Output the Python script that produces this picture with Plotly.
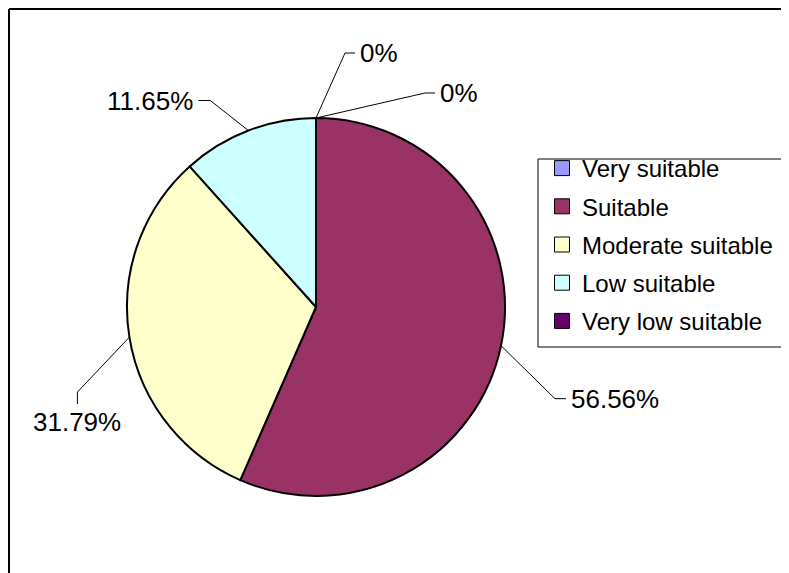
import math
import plotly.graph_objects as go

categories = ["Very suitable", "Suitable", "Moderate suitable", "Low suitable", "Very low suitable"]
values = [0.0, 56.56, 31.79, 11.65, 0.0]
label_texts = ["0%", "56.56%", "31.79%", "11.65%", "0%"]
colors = ["#9999FF", "#993366", "#FFFFCC", "#CCFFFF", "#660066"]

W, H = 781, 565
OX, OY = 8, 8  # page offset of the figure in the screenshot
CX, CY, R = 316, 307, 189
FONT = "Liberation Sans, Arial, sans-serif"

def px(x):
    return (x - OX) / W

def py(y):
    return 1 - (y - OY) / H

# leader line geometry per label: elbow offset from slice edge, tail offset, text anchor
leader = [
    dict(elbow=(29, -65), tail=(10, 0), anchor="left"),
    dict(elbow=(54, 53), tail=(11, 0), anchor="left"),
    dict(elbow=(-52, 55), tail=(0, 12), anchor="below"),
    dict(elbow=(-38, -30), tail=(-12, 0), anchor="right"),
    dict(elbow=(109, -25), tail=(10, 0), anchor="left"),
]

fig = go.Figure()
fig.add_trace(go.Pie(
    labels=categories,
    values=values,
    sort=False,
    direction="clockwise",
    rotation=0,
    textinfo="none",
    hoverinfo="label+percent",
    marker=dict(colors=colors, line=dict(color="black", width=2)),
    domain=dict(x=[px(CX - R), px(CX + R)], y=[py(CY + R), py(CY - R)]),
    showlegend=False,
))

# legend entries (one group each so the spacing can match)
for name, col in zip(categories, colors):
    fig.add_trace(go.Scatter(
        x=[None], y=[None], mode="markers", name=name,
        legendgroup=name, showlegend=True,
        marker=dict(symbol="square", size=15, color=col,
                    line=dict(color="black", width=1)),
    ))

shapes = []
annotations = []
total = sum(values)
cum = 0.0
for i, v in enumerate(values):
    theta = 2 * math.pi * (cum + v / 2) / total
    cum += v
    ex = CX + R * math.sin(theta)
    ey = CY - R * math.cos(theta)
    lx = ex + leader[i]["elbow"][0]
    ly = ey + leader[i]["elbow"][1]
    tx = lx + leader[i]["tail"][0]
    ty = ly + leader[i]["tail"][1]
    path = f"M {px(ex)},{py(ey)} L {px(lx)},{py(ly)} L {px(tx)},{py(ty)}"
    shapes.append(dict(type="path", xref="paper", yref="paper", path=path,
                       line=dict(color="black", width=1)))
    a = leader[i]["anchor"]
    if a == "left":
        ann = dict(x=px(tx + 3), y=py(ty), xanchor="left", yanchor="middle")
    elif a == "right":
        ann = dict(x=px(tx - 3), y=py(ty), xanchor="right", yanchor="middle")
    else:
        ann = dict(x=px(tx), y=py(ty + 1), xanchor="center", yanchor="top")
    ann.update(xref="paper", yref="paper", text=label_texts[i], showarrow=False,
               font=dict(family=FONT, size=26, color="black"))
    annotations.append(ann)

# chart border (top and left edges; the rest runs off the page)
shapes.append(dict(type="line", xref="paper", yref="paper",
                   x0=px(9), y0=py(9), x1=px(OX + W + 40), y1=py(9),
                   line=dict(color="black", width=2)))
shapes.append(dict(type="line", xref="paper", yref="paper",
                   x0=px(9), y0=py(9), x1=px(9), y1=py(OY + H + 40),
                   line=dict(color="black", width=2)))
# legend frame
shapes.append(dict(type="rect", xref="paper", yref="paper",
                   x0=px(538), y0=py(159), x1=px(OX + W + 40), y1=py(347),
                   line=dict(color="black", width=1), fillcolor="white",
                   layer="below"))

fig.update_layout(
    width=W, height=H,
    margin=dict(l=0, r=0, t=0, b=0),
    paper_bgcolor="white",
    plot_bgcolor="rgba(0,0,0,0)",
    xaxis=dict(visible=False),
    yaxis=dict(visible=False),
    shapes=shapes,
    annotations=annotations,
    legend=dict(
        x=px(542), y=py(146), xanchor="left", yanchor="top",
        borderwidth=0, bgcolor="rgba(0,0,0,0)",
        font=dict(family=FONT, size=24, color="black"),
        traceorder="grouped", tracegroupgap=4,
        itemsizing="trace",
    ),
)

fig.write_html("out.html")
